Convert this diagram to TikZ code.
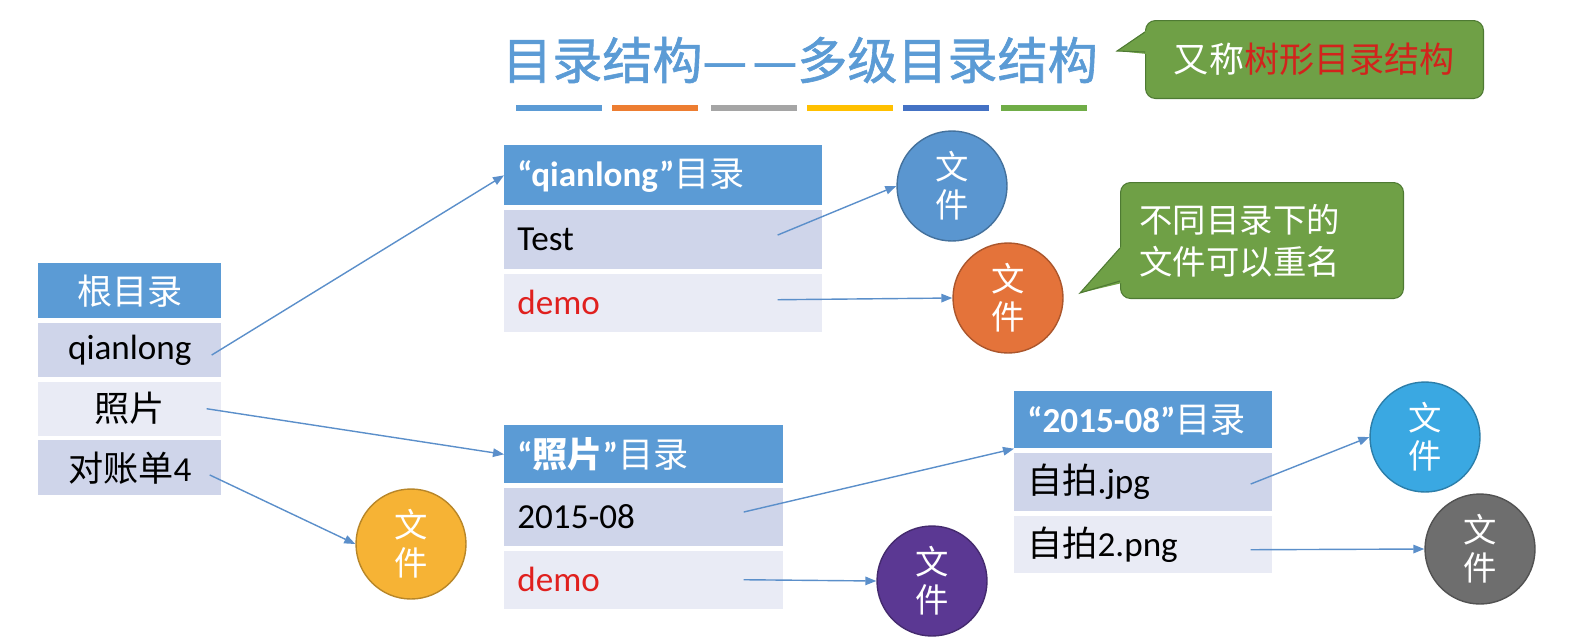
\documentclass[tikz,border=0pt]{standalone}
\usepackage{fontspec}
\setmainfont{Carlito}
\newfontfamily\cjk{Noto Sans CJK SC}
\newfontfamily\cjktitle[FakeBold=1.2]{Noto Sans CJK SC}
\usetikzlibrary{positioning,arrows.meta}

\definecolor{headblue}{HTML}{5B9BD5}
\definecolor{rowdark}{HTML}{CFD5EA}
\definecolor{rowlight}{HTML}{E9EBF5}
\definecolor{demored}{HTML}{E0201E}
\definecolor{linkblue}{HTML}{5B8FCA}
\definecolor{notegreen}{HTML}{6FA046}
\definecolor{noteedge}{HTML}{4E7A33}
\definecolor{notered}{HTML}{D2231C}
\definecolor{fileblue}{HTML}{5A96D0}
\definecolor{fileorange}{HTML}{E4733A}
\definecolor{fileyellow}{HTML}{F6B335}
\definecolor{filepurple}{HTML}{5B3893}
\definecolor{filesky}{HTML}{3AA8E2}
\definecolor{filegray}{HTML}{6E6E6E}
\definecolor{barblue}{HTML}{5B9BD5}
\definecolor{barorange}{HTML}{ED7D31}
\definecolor{bargray}{HTML}{A5A5A5}
\definecolor{baryellow}{HTML}{FFC000}
\definecolor{bardark}{HTML}{4472C4}
\definecolor{bargreen}{HTML}{70AD47}

\begin{document}
\begin{tikzpicture}[
    x=0.02cm, y=-0.02cm,
    node distance = 0.08cm,
    >={Triangle[length=0.22cm,width=0.17cm]},
    tab/.style = {rectangle, inner xsep=0.26cm, inner ysep=0pt, font=\fontsize{20}{24}\selectfont, text width=#1},
    head/.style = {tab=#1, fill=headblue, text=white},
    rowa/.style = {tab=#1, fill=rowdark},
    rowb/.style = {tab=#1, fill=rowlight},
    file/.style = {circle, fill=#1, draw=#1!75!black, line width=0.8pt, minimum size=2.2cm, inner sep=0pt, text=white, align=center, font=\cjk\fontsize{19}{21.5}\selectfont},
    link/.style = {->, draw=linkblue, line width=0.8pt},
    bubble/.style = {rectangle, rounded corners=0.2cm, fill=notegreen, draw=noteedge, line width=0.6pt, text=white}
]
    \useasboundingbox (0,0) rectangle (1577,643);

    % title and colour bars
    \node[font=\cjktitle\fontsize{28.5}{32}\selectfont, text=headblue] (title) at (800,60) {目录结构—\hspace{3pt}—多级目录结构};
    \foreach \c/\x in {barblue/516, barorange/612, bargray/711, baryellow/807, bardark/903, bargreen/1001}
        \fill[\c] (\x,105) rectangle ++(86,6);

    % root directory
    \node[head=3.14cm, align=center, minimum height=1.1cm, anchor=north west] (root) at (38,263) {\cjk 根目录};
    \node[rowa=3.14cm, align=center, minimum height=1.08cm, below=of root] (rq) {qianlong};
    \node[rowb=3.14cm, align=center, minimum height=1.08cm, below=of rq] (rp) {\cjk 照片};
    \node[rowa=3.14cm, align=center, minimum height=1.1cm, below=of rp] (rd) {{\cjk 对账单}4};

    % qianlong directory
    \node[head=5.84cm, align=left, minimum height=1.2cm, anchor=north west] (qlhead) at (504,145) {\textbf{“qianlong”}{\cjk 目录}};
    \node[rowa=5.84cm, align=left, minimum height=1.18cm, below=of qlhead] (qltest) {Test};
    \node[rowb=5.84cm, align=left, minimum height=1.16cm, below=of qltest] (qldemo) {\textcolor{demored}{demo}};

    % photo directory
    \node[head=5.06cm, align=left, minimum height=1.16cm, anchor=north west] (pphead) at (504,425) {\textbf{“}{\cjk\bfseries 照片}\textbf{”}{\cjk 目录}};
    \node[rowa=5.06cm, align=left, minimum height=1.16cm, below=of pphead] (ppdate) {2015-08};
    \node[rowb=5.06cm, align=left, minimum height=1.16cm, below=of ppdate] (ppdemo) {\textcolor{demored}{demo}};

    % 2015-08 directory
    \node[head=4.64cm, align=left, minimum height=1.14cm, anchor=north west] (dthead) at (1014,391) {\textbf{“2015-08”}{\cjk 目录}};
    \node[rowa=4.64cm, align=left, minimum height=1.16cm, below=of dthead] (dtjpg) {{\cjk 自拍}.jpg};
    \node[rowb=4.64cm, align=left, minimum height=1.14cm, below=of dtjpg] (dtpng) {{\cjk 自拍}2.png};

    % files
    \node[file=fileblue] (fa) at (952,186) {文\\件};
    \node[file=fileorange] (fb) at (1008,298) {文\\件};
    \node[file=fileyellow] (fc) at (411,544) {文\\件};
    \node[file=filepurple] (fd) at (932,581) {文\\件};
    \node[file=filesky] (fe) at (1425,437) {文\\件};
    \node[file=filegray] (ff) at (1480,549) {文\\件};

    % links
    \draw[link] ([xshift=-0.2cm,yshift=-0.1cm]rq.east) -- (qlhead.west);
    \draw[link] ([xshift=-0.3cm]rp.east) -- (pphead.west);
    \draw[link] ([xshift=-0.24cm,yshift=-0.14cm]rd.east) -- (fc.west);
    \draw[link] ([xshift=-0.9cm,yshift=0.09cm]qltest.east) -- (fa.west);
    \draw[link] ([xshift=-0.9cm,yshift=0.06cm]qldemo.east) -- (fb.west);
    \draw[link] ([xshift=-0.8cm,yshift=0.1cm]ppdate.east) -- (dthead.south west);
    \draw[link] ([xshift=-0.8cm]ppdemo.east) -- (fd.west);
    \draw[link] ([xshift=-0.44cm,yshift=-0.04cm]dtjpg.east) -- (fe.west);
    \draw[link] ([xshift=-0.44cm,yshift=-0.11cm]dtpng.east) -- (ff.west);

    % notes
    \node[bubble, minimum width=6.76cm, minimum height=1.56cm, anchor=north west, font=\cjk\fontsize{20}{24}\selectfont] (note1) at (1145,20) {又称\textcolor{notered}{树形目录结构}};
    \fill[notegreen] (1117,51) -- (1147,30) -- (1147,54) -- cycle;
    \draw[noteedge, line width=0.6pt] (1145,32) -- (1117,51) -- (1145,52);

    \node[bubble, minimum width=5.66cm, minimum height=2.32cm, inner xsep=0.38cm, text width=4.9cm, align=left, anchor=north west, font=\cjk\fontsize{19}{24}\selectfont] (note2) at (1120,182) {不同目录下的\\文件可以重名};
    \fill[notegreen] (1080,293) -- (1122,246) -- (1122,283) -- cycle;
    \draw[noteedge, line width=0.6pt] (1120,248) -- (1080,293) -- (1120,281);
\end{tikzpicture}
\end{document}
